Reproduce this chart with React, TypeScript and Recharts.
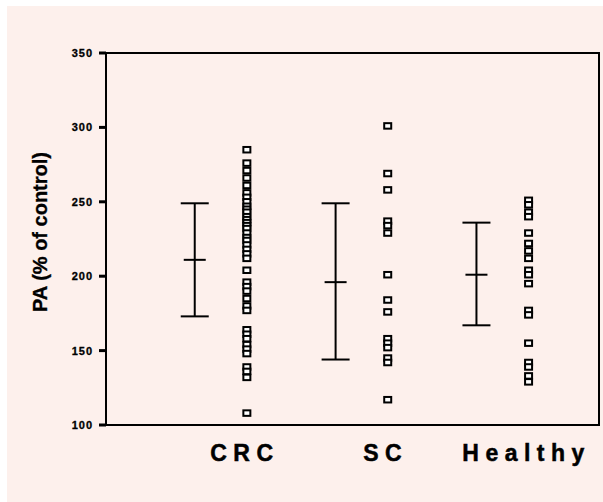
import React from 'react';
import { ScatterChart, Scatter, XAxis, YAxis, ErrorBar, ReferenceArea } from 'recharts';

const categories = ['CRC', 'SC', 'Healthy'];

const crcValues = [285, 276, 271, 266, 261, 256, 253, 250, 247, 245, 243, 240, 238, 236, 234, 232, 229, 226, 224, 221, 218, 215, 212, 204, 196, 193, 190, 185, 180, 177, 164, 161, 158, 154, 151, 148, 139, 136, 132, 108];
const scValues = [301, 269, 258, 237, 234, 229, 201, 184, 176, 158, 155, 152, 145, 142, 117];
const healthyValues = [251, 248, 243, 240, 229, 222, 217, 212, 204, 201, 195, 177, 174, 155, 142, 139, 133, 129];

const means = [211, 196, 201];
const upperValues = [249, 249, 236];
const lowerValues = [173, 144, 167];

const yTicks = [100, 150, 200, 250, 300, 350];

const BAR_OFFSET = -0.37;
const FONT = '"Liberation Sans", Arial, sans-serif';

const groups = [crcValues, scValues, healthyValues];

const pointData = groups.flatMap((vals, i) => vals.map((v) => ({ x: i + 1, y: v })));
const summaryData = categories.map((c, i) => ({
  x: i + 1 + BAR_OFFSET,
  y: means[i],
  err: [means[i] - lowerValues[i], upperValues[i] - means[i]],
}));

const SquareShape = (props: any) => {
  const { cx, cy } = props;
  if (cx == null || cy == null) return null;
  return <rect x={cx - 3.5} y={cy - 2.75} width={7} height={5.5} fill="#fff" stroke="#000" strokeWidth={2} />;
};

const MeanShape = (props: any) => {
  const { cx, cy } = props;
  if (cx == null || cy == null) return null;
  return <line x1={cx - 11} x2={cx + 11} y1={cy} y2={cy} stroke="#000" strokeWidth={2} />;
};

const XTick = (props: any) => {
  const { x, y, payload } = props;
  const label = categories[Math.round(payload.value) - 1] ?? '';
  return (
    <text x={x - 2} y={y + 34} textAnchor="middle" fontFamily={FONT} fontWeight="bold" fontSize={23} letterSpacing={6.5} fill="#000" stroke="#000" strokeWidth={0.5}>
      {label}
    </text>
  );
};

const YTick = (props: any) => {
  const { x, y, payload } = props;
  return (
    <text x={x} y={y} dy={4} textAnchor="end" fontFamily={FONT} fontWeight="bold" fontSize={11} letterSpacing={1} fill="#000" stroke="#000" strokeWidth={0.3}>
      {payload.value}
    </text>
  );
};

const YLabel = (props: any) => {
  const vb = props.viewBox || {};
  const cx = 46.5;
  const cy = (vb.y ?? 53) + (vb.height ?? 372) / 2 - 7;
  return (
    <text x={cx} y={cy} transform={`rotate(-90, ${cx}, ${cy})`} textAnchor="middle" fontFamily={FONT} fontWeight="bold" fontSize={20} fill="#000" stroke="#000" strokeWidth={0.3}>
      PA (% of control)
    </text>
  );
};

export default function App() {
  return (
    <div style={{ position: 'absolute', left: 0, top: 0, width: 603, height: 502, background: '#fff' }}>
      <div style={{ position: 'absolute', left: 7, top: 6, right: 0, bottom: 0, background: '#fdf0ec' }} />
      <div style={{ position: 'absolute', left: 0, top: 0 }}>
        <ScatterChart width={603} height={502} margin={{ top: 53, right: 4, bottom: 0, left: 0 }}>
          <XAxis
            type="number"
            dataKey="x"
            domain={[0, 3.5]}
            ticks={[1, 2, 3]}
            tick={<XTick />}
            tickLine={false}
            tickSize={0}
            height={77}
            axisLine={{ stroke: '#000', strokeWidth: 2 }}
            allowDataOverflow
          />
          <YAxis
            type="number"
            dataKey="y"
            domain={[100, 350]}
            ticks={yTicks}
            width={106}
            tickSize={7}
            tickMargin={6}
            tickLine={{ stroke: '#000', strokeWidth: 3 }}
            axisLine={{ stroke: '#000', strokeWidth: 2 }}
            tick={<YTick />}
            allowDataOverflow
            label={<YLabel />}
          />
          <ReferenceArea x1={0} x2={3.5} y1={100} y2={350} fill="none" stroke="#000" strokeWidth={2} fillOpacity={0} />
          <Scatter data={summaryData} shape={<MeanShape />} isAnimationActive={false}>
            <ErrorBar dataKey="err" direction="y" width={14} stroke="#000" strokeWidth={2} isAnimationActive={false} />
          </Scatter>
          <Scatter data={pointData} shape={<SquareShape />} isAnimationActive={false} />
        </ScatterChart>
      </div>
    </div>
  );
}
